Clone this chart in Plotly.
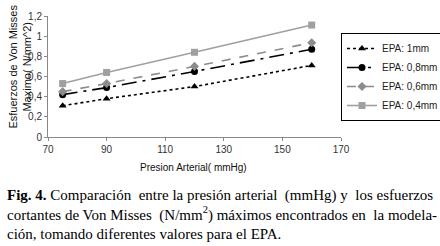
import plotly.graph_objects as go

presion = [75, 90, 120, 160]
epa_1mm = [0.31, 0.38, 0.50, 0.71]
epa_08mm = [0.42, 0.49, 0.65, 0.87]
epa_06mm = [0.45, 0.53, 0.70, 0.935]
epa_04mm = [0.53, 0.64, 0.84, 1.11]
series_names = ["EPA: 1mm", "EPA: 0,8mm", "EPA: 0,6mm", "EPA: 0,4mm"]
y_tickvals = [0, 0.2, 0.4, 0.6, 0.8, 1.0, 1.2]
y_ticktext = ["0", "0,2", "0,4", "0,6", "0,8", "1", "1,2"]
x_tickvals = [70, 90, 110, 130, 150, 170]

fig = go.Figure()
styles = [
    (epa_1mm, "black", "dot", "triangle-up", "black"),
    (epa_08mm, "black", "longdashdot", "circle", "black"),
    (epa_06mm, "#8c8c8c", "dash", "diamond", "#8c8c8c"),
    (epa_04mm, "#a0a0a0", "solid", "square", "#a0a0a0"),
]
for name, (vals, lc, dash, sym, mc) in zip(series_names, styles):
    fig.add_trace(go.Scatter(
        x=presion, y=vals, name=name, mode="lines+markers",
        line=dict(color=lc, width=1.6, dash=dash),
        marker=dict(symbol=sym, size=7, color=mc),
    ))

fig.update_layout(
    width=440, height=246,
    margin=dict(l=48, r=93, t=16, b=109),
    paper_bgcolor="white", plot_bgcolor="white",
    font=dict(family="Liberation Sans, Arial", size=10, color="#222"),
    showlegend=True,
    legend=dict(
        xref="container", yref="container",
        x=341 / 440, y=1 - 33 / 246, xanchor="left", yanchor="top",
        bordercolor="black", borderwidth=1,
        font=dict(size=10, color="#222"),
        itemwidth=30, tracegroupgap=0,
    ),
    xaxis=dict(
        range=[70, 170], tickvals=x_tickvals, showgrid=False, zeroline=False,
        showline=True, linecolor="#888", linewidth=1, automargin=False,
        ticks="outside", ticklen=3, tickcolor="#888",
        tickfont=dict(size=10, color="#333"),
    ),
    yaxis=dict(
        range=[0, 1.2], tickvals=y_tickvals, ticktext=y_ticktext, showgrid=False,
        zeroline=False, showline=True, linecolor="#888", linewidth=1, automargin=False,
        ticks="outside", ticklen=3, tickcolor="#888",
        tickfont=dict(size=10, color="#333"),
    ),
)

fig.add_annotation(
    xref="paper", yref="paper", x=(19 - 48) / 299, y=(137 - 67) / 121,
    xanchor="center", yanchor="middle", textangle=-90, showarrow=False,
    text="Esfuerzos de Von Misses<br>Maximo( N/mm^2)",
    font=dict(family="Liberation Sans, Arial", size=11, color="#111"),
)
fig.add_annotation(
    xref="paper", yref="paper", x=(196 - 48) / 299, y=(137 - 167) / 121,
    xanchor="center", yanchor="middle", showarrow=False,
    text="Presion Arterial( mmHg)",
    font=dict(family="Liberation Sans, Arial", size=10, color="#111"),
)

fig.add_annotation(
    xref="paper", yref="paper", x=(4 - 48) / 299, y=(137 - 185) / 121,
    xanchor="left", yanchor="top", align="left", showarrow=False,
    text=("<b>Fig. 4.</b> Comparación&nbsp; entre la presión arterial&nbsp; (mmHg) y&nbsp; los esfuerzos<br>"
          "cortantes de Von Misses&nbsp; (N/mm<sup>2</sup>) máximos encontrados en&nbsp; la modela-<br>"
          "ción, tomando diferentes valores para el EPA."),
    font=dict(family="Liberation Serif, Times New Roman", size=15, color="black"),
)

fig.write_html("out.html", config={"displayModeBar": False},
               post_script="document.body.style.margin='0';")
